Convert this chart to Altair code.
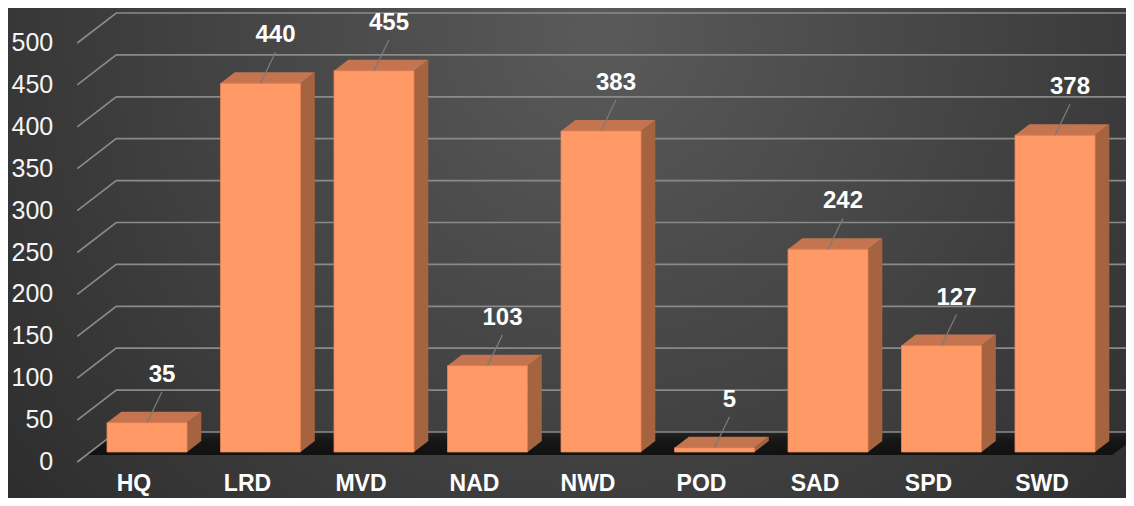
import altair as alt
import pandas as pd

categories = ["HQ", "LRD", "MVD", "NAD", "NWD", "POD", "SAD", "SPD", "SWD"]
values = [35, 440, 455, 103, 383, 5, 242, 127, 378]
y_ticks = [0, 50, 100, 150, 200, 250, 300, 350, 400, 450, 500]

# ---- layout / projection constants ----
W, H = 1118, 490
PXI = 113.5          # pixels per category step
PXV = 0.838          # pixels per value unit
X0 = 139             # pixel of first category centre (bar front plane)
Y0 = 444             # pixel of value 0 on bar front plane
XD = [-X0 / PXI, (W - X0) / PXI]
YD = [(Y0 - H) / PXV, Y0 / PXV]
KX = 39 / PXI        # depth -> x (category units)
KV = 30 / PXV        # depth -> y (value units)
HALF = 40 / PXI      # half bar width
BAR_DZ = 11 / 30     # bar depth
WF, WB = -1 / 3, 2 / 3   # wall front / back depth
LEFT, RIGHT = -0.5, 8.54


def proj(i, v, dz):
    return i + dz * KX, v + dz * KV


xs = alt.Scale(domain=XD, nice=False, zero=False)
ys = alt.Scale(domain=YD, nice=False, zero=False)


def X(f):
    return alt.X(f, type="quantitative", scale=xs, axis=None)


def Y(f):
    return alt.Y(f, type="quantitative", scale=ys, axis=None, stack=None)


# ---- background ----
bg = alt.Chart(pd.DataFrame({"a": [0]})).mark_rect(
    fill={"gradient": "radial", "x1": 0.53, "y1": 0.3, "r1": 0,
          "x2": 0.53, "y2": 0.3, "r2": 0.75,
          "stops": [{"offset": 0, "color": "#5a5a5a"},
                    {"offset": 1, "color": "#282828"}]}
).encode(x=alt.value(0), x2=alt.value(W), y=alt.value(0), y2=alt.value(H))

# ---- floor shadow ----
fdz, bdz = -0.1, WB
fl = proj(LEFT, 0, fdz)
bl = proj(LEFT, 0, bdz)
fr = proj(RIGHT, 0, fdz)
br = proj(RIGHT, 0, bdz)
floor_df = pd.DataFrame({
    "x": [fl[0], bl[0], fr[0], br[0]],
    "lo": [fl[1], fl[1], fl[1], br[1]],
    "hi": [fl[1], bl[1], bl[1], br[1]],
})
floor = alt.Chart(floor_df).mark_area(
    fill={"gradient": "linear", "x1": 0, "y1": 0, "x2": 0, "y2": 1,
          "stops": [{"offset": 0, "color": "#242424"},
                    {"offset": 0.45, "color": "#151515"},
                    {"offset": 1, "color": "#111111"}]}
).encode(x=X("x"), y=Y("lo"), y2="hi")

# ---- gridlines (side wall + back wall) ----
g_rows = []
for t in y_ticks:
    a = proj(LEFT, t, WF)
    b = proj(LEFT, t, WB)
    g_rows += [
        {"t": t, "o": 0, "x": a[0], "y": a[1]},
        {"t": t, "o": 1, "x": b[0], "y": b[1]},
        {"t": t, "o": 2, "x": XD[1] + 1, "y": b[1]},
    ]
grid = alt.Chart(pd.DataFrame(g_rows)).mark_line(
    color="#8a8a8a", strokeWidth=1.7, clip=True
).encode(x=X("x"), y=Y("y"), detail="t:N", order="o:Q")

tl_rows = []
for t in y_ticks:
    a = proj(LEFT, t, WF)
    tl_rows.append({"x": a[0], "y": a[1], "label": str(t)})
tick_labels = alt.Chart(pd.DataFrame(tl_rows)).mark_text(
    align="right", baseline="middle", dx=-24, fontSize=25,
    font="Liberation Sans", color="#f4f4f4"
).encode(x=X("x"), y=Y("y"), text="label:N")

# ---- bars ----
front_rows, side_rows, top_rows = [], [], []
ddx, ddv = BAR_DZ * KX, BAR_DZ * KV
for k, (c, v) in enumerate(zip(categories, values)):
    xl, xr = k - HALF, k + HALF
    front_rows.append({"c": c, "x1": xl, "x2": xr, "y1": 0, "y2": v})
    side_rows += [
        {"c": c, "x": xr, "lo": 0, "hi": v},
        {"c": c, "x": xr + ddx, "lo": ddv, "hi": v + ddv},
    ]
    top_rows += [
        {"c": c, "x": xl, "lo": v, "hi": v},
        {"c": c, "x": xl + ddx, "lo": v, "hi": v + ddv},
        {"c": c, "x": xr, "lo": v, "hi": v + ddv},
        {"c": c, "x": xr + ddx, "lo": v + ddv, "hi": v + ddv},
    ]

side = alt.Chart(pd.DataFrame(side_rows)).mark_area(color="#a6633f", opacity=1).encode(
    x=X("x"), y=Y("lo"), y2="hi", detail="c:N")
top = alt.Chart(pd.DataFrame(top_rows)).mark_area(color="#c57450", opacity=1).encode(
    x=X("x"), y=Y("lo"), y2="hi", detail="c:N")
front = alt.Chart(pd.DataFrame(front_rows)).mark_rect(
    color="#ff9966", stroke="#e88456", strokeWidth=0.8
).encode(x=X("x1"), x2="x2", y=Y("y1"), y2="y2")

# ---- data labels with leader lines ----
LX = 15 / PXI
L_END = 31 / PXV
L_TXT = 48 / PXV
lead_rows, lab_rows = [], []
for k, (c, v) in enumerate(zip(categories, values)):
    lead_rows += [
        {"c": c, "o": 0, "x": k, "y": v},
        {"c": c, "o": 1, "x": k + LX, "y": v + L_END},
    ]
    lab_rows.append({"c": c, "x": k + LX, "y": v + L_TXT, "label": str(v)})

leaders = alt.Chart(pd.DataFrame(lead_rows)).mark_line(
    color="#7a7a7a", strokeWidth=1.3
).encode(x=X("x"), y=Y("y"), detail="c:N", order="o:Q")
data_labels = alt.Chart(pd.DataFrame(lab_rows)).mark_text(
    align="center", baseline="middle", fontSize=24, fontWeight="bold",
    font="Liberation Sans", color="#ffffff"
).encode(x=X("x"), y=Y("y"), text="label:N")

# ---- category labels ----
cat_df = pd.DataFrame({
    "x": [k + WF * KX for k in range(len(categories))],
    "label": categories,
})
cat_labels = alt.Chart(cat_df).mark_text(
    align="center", baseline="middle", fontSize=23, fontWeight="bold",
    font="Liberation Sans", color="#ffffff"
).encode(x=X("x"), y=alt.value(476), text="label:N")

chart = alt.layer(
    bg, floor, grid, tick_labels, side, top, front, leaders, data_labels, cat_labels
).properties(
    width=W, height=H, padding=0,
    autosize=alt.AutoSizeParams(type="none"),
    background="#2e2e2e",
).configure_view(stroke=None)

chart.save("out.html", embed_options={"renderer": "svg", "actions": False})
